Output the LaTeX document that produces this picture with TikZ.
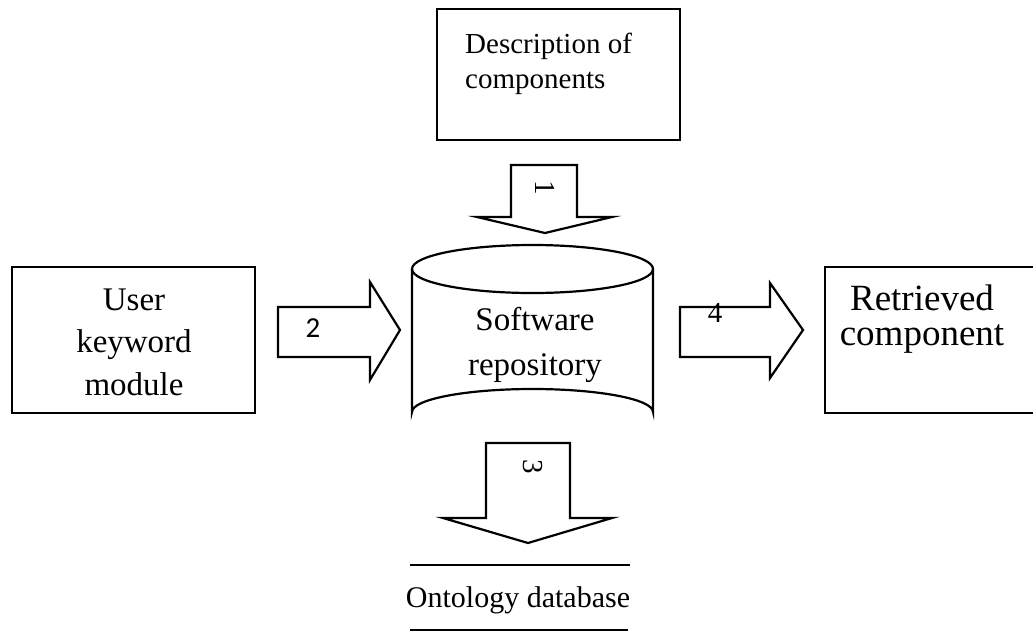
\documentclass[tikz,border=0pt]{standalone}
\usepackage{fontspec}
\setmainfont{Liberation Serif}
\newfontfamily\numsans{Carlito}
\begin{document}
\begin{tikzpicture}[x=1pt,y=-1pt,
  outline/.style={draw=black,line width=2.2pt,line join=miter},
  blockarrow/.style={draw=black,line width=2.2pt,line join=miter,fill=white},
  lbl/.style={inner sep=0pt,anchor=base},
  num/.style={inner sep=0pt,font=\fontsize{29}{29}\selectfont}]
\clip (0,0) rectangle (1033,632);
% boxes
\node[outline,minimum width=243pt,minimum height=131pt,inner sep=0pt] (desc) at (558.5,74.5) {};
\node[outline,minimum width=243pt,minimum height=146pt,inner sep=0pt] (user) at (133.5,340) {};
\draw[outline] (1040,267) -- (825,267) -- (825,413) -- (1040,413);
\coordinate (ret) at (929,340);
% cylinder
\coordinate (repo) at (532.5,340);
\draw[outline] (412,269) -- (412,412) arc[start angle=180,end angle=360,x radius=120.5,y radius=23] -- (653,269);
\draw[outline] (532.5,269) ellipse[x radius=120.5,y radius=24];
% texts (base anchor = baseline of the last line)
\node[lbl,anchor=base west,align=left,font=\fontsize{29}{35}\selectfont] (desctext) at (465,88) {Description of\\components};
\node[lbl,align=center,font=\fontsize{33}{42.5}\selectfont] (usertext) at (134,395) {User\\keyword\\module};
\node[lbl,align=center,font=\fontsize{33}{45}\selectfont] (repotext) at (535,375) {Software\\repository};
\node[lbl,align=center,font=\fontsize{37}{35}\selectfont] (rettext) at (922,345) {Retrieved\\component};
\node[lbl,font=\fontsize{30}{30}\selectfont] (onto) at (518,607) {Ontology database};
\draw[line width=2.2pt] (410,565) -- (630,565);
\draw[line width=2.2pt] (410,630) -- (628,630);
% block arrows
\draw[blockarrow] (511,165) -- (577,165) -- (577,217) -- (612,217) -- (545,233) -- (477,217) -- (511,217) -- cycle;
\draw[blockarrow] (278,307) -- (370,307) -- (370,282) -- (400,330) -- (370,380) -- (370,357) -- (278,357) -- cycle;
\draw[blockarrow] (486,443) -- (570,443) -- (570,518) -- (612,518) -- (528,543) -- (443,518) -- (486,518) -- cycle;
\draw[blockarrow] (680,307) -- (770,307) -- (770,283) -- (803,330) -- (770,378) -- (770,357) -- (680,357) -- cycle;
% numbers
\node[num,rotate=-90] (n1) at (545,188) {1};
\node[inner sep=0pt,font=\numsans\fontsize{29}{29}\selectfont] (n2) at (313,328) {2};
\node[num,rotate=-90] (n3) at (533,467) {3};
\node[num] (n4) at (715,313) {4};
\end{tikzpicture}
\end{document}
